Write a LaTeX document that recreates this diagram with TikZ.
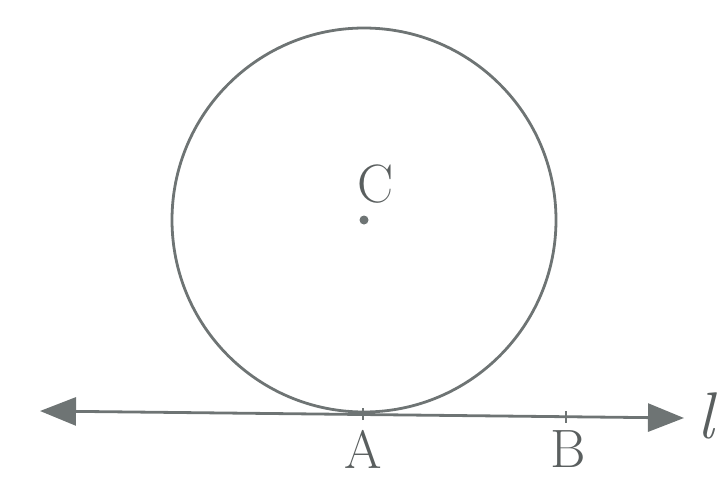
\documentclass[tikz,border=0pt]{standalone}
\usetikzlibrary{arrows.meta}
\definecolor{ink}{HTML}{6E7474}
\definecolor{txt}{HTML}{5A5F5F}
\begin{document}
\begin{tikzpicture}[x=1pt,y=-1pt,
  curve/.style={draw=ink,line width=2.8pt},
  tangent/.style={draw=ink,line width=2.8pt,{Triangle[length=36pt,width=28pt]}-{Triangle[length=36pt,width=28pt]}},
  lbl/.style={text=txt,font=\fontsize{54}{54}\selectfont,inner sep=0pt},
  tick/.style={draw=ink,line width=2.8pt}]
\useasboundingbox (0,0) rectangle (723,480);
\coordinate (O) at (364,220);
\coordinate (L) at (40,411);
\coordinate (R) at (684,418);
\coordinate (A) at (363,414);
\coordinate (B) at (566,416.5);
\draw[curve] (O) circle[radius=192];
\draw[tangent] (L) -- (R);
\fill[ink] (O) circle[radius=4.5];
\node[lbl] (Clab) at (376,184) {C};
\draw[tick] ([yshift=-6]A) -- ([yshift=6]A);
\draw[tick] ([yshift=-6]B) -- ([yshift=6]B);
\node[lbl] (Alab) at (363,449) {A};
\node[lbl] (Blab) at (568,449) {B};
\node[lbl,font=\fontsize{66}{66}\selectfont\itshape] (llab) at (706,416) {l};
\end{tikzpicture}
\end{document}
